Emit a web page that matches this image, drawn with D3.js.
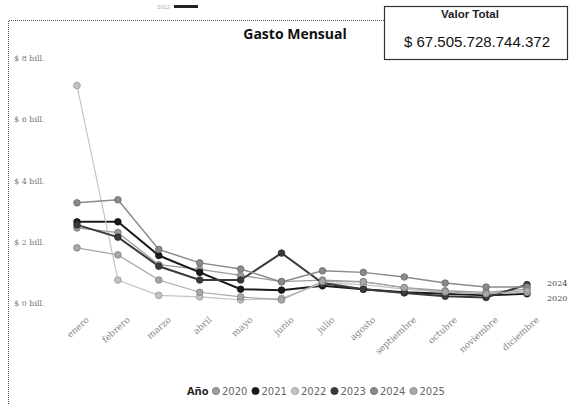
<!DOCTYPE html>
<html>
<head>
<meta charset="utf-8">
<script src="https://cdn.jsdelivr.net/npm/d3@7"></script>
<style>
  body { margin: 0; background: #fff; }
  svg { display: block; }
  .tick text { font-family: "DejaVu Serif", serif; }
</style>
</head>
<body>
<div id="container"></div>
<script>
// datos (billones)
var meses = ["enero", "febrero", "marzo", "abril", "mayo", "junio", "julio",
  "agosto", "septiembre", "octubre", "noviembre", "diciembre"];
var anios = ["2020", "2021", "2022", "2023", "2024", "2025"];
var gasto2020 = [2.45, 2.3, 1.25, 1.1, 0.9, 0.7, 0.75, 0.7, 0.5, 0.4, 0.35, 0.45];
var gasto2021 = [2.65, 2.65, 1.55, 1.0, 0.45, 0.42, 0.56, 0.45, 0.35, 0.3, 0.25, 0.3];
var gasto2022 = [7.1, 0.75, 0.25, 0.2, 0.1, 0.15, 0.65, 0.6, 0.45, 0.35, 0.3, 0.35];
var gasto2023 = [2.55, 2.15, 1.2, 0.75, 0.75, 1.63, 0.65, 0.45, 0.33, 0.22, 0.18, 0.6];
var gasto2024 = [3.27, 3.37, 1.75, 1.31, 1.11, 0.69, 1.05, 1.0, 0.85, 0.65, 0.52, 0.52];
var gasto2025 = [1.8, 1.57, 0.75, 0.35, 0.2, 0.1, 0.7, 0.69, 0.5, 0.36, 0.3, 0.4];
var yTicks = [0, 2, 4, 6, 8];
var valorTotal = "$ 67.505.728.744.372";

var series = [gasto2020, gasto2021, gasto2022, gasto2023, gasto2024, gasto2025];
var colores = ["#9c9c9c", "#1a1a1a", "#c4c4c4", "#3a3a3a", "#8a8a8a", "#a8a8a8"];
var grosor = [1.3, 2, 1.2, 2, 1.5, 1.2];

var W = 569, H = 404;
var svg = d3.select("#container").append("svg")
  .attr("width", W).attr("height", H);

// marco punteado
svg.append("path")
  .attr("d", "M8.5,404 L8.5,20.5 L385,20.5")
  .attr("fill", "none").attr("stroke", "#555")
  .attr("stroke-width", 1).attr("stroke-dasharray", "1,1");

// pequeño filtro arriba
svg.append("text").attr("x", 157).attr("y", 9)
  .style("font-family", "DejaVu Sans").style("font-size", "5px")
  .attr("fill", "#aaa").text("2022");
svg.append("rect").attr("x", 174).attr("y", 5).attr("width", 24).attr("height", 3)
  .attr("fill", "#222");

// titulo
svg.append("text")
  .attr("x", 295).attr("y", 39)
  .attr("text-anchor", "middle")
  .style("font-family", "Open Sans").style("font-weight", "bold").style("font-size", "14px")
  .attr("fill", "#111")
  .text("Gasto Mensual");

// tarjeta valor total
svg.append("rect").attr("x", 384.5).attr("y", 6.5).attr("width", 183).attr("height", 53)
  .attr("fill", "#fff").attr("stroke", "#333").attr("stroke-width", 1.2);
svg.append("text").attr("x", 470).attr("y", 18)
  .attr("text-anchor", "middle")
  .style("font-family", "Liberation Sans").style("font-weight", "bold").style("font-size", "11.5px")
  .attr("fill", "#222").text("Valor Total");
svg.append("text").attr("x", 477).attr("y", 47)
  .attr("text-anchor", "middle")
  .style("font-family", "Liberation Sans").style("font-size", "15px")
  .attr("fill", "#111").text(valorTotal);

var x = d3.scalePoint().domain(meses).range([77, 527]);
var y = d3.scaleLinear().domain([0, 8]).range([303, 58]);

var yAxis = d3.axisLeft(y).tickValues(yTicks).tickSize(0)
  .tickFormat(function(d) { return "$ " + d + " bill."; });
var gy = svg.append("g").attr("transform", "translate(14,0)").call(yAxis);
gy.select(".domain").remove();
gy.selectAll("text").attr("text-anchor", "start").attr("x", 0).attr("dy", "0.32em")
  .style("font-size", "8px").attr("fill", "#777");

var xAxis = d3.axisBottom(x).tickSize(0);
var gx = svg.append("g").attr("transform", "translate(0,314)").call(xAxis);
gx.select(".domain").remove();
gx.selectAll("text")
  .attr("text-anchor", "end")
  .attr("dy", "0.35em")
  .attr("transform", "translate(8,2) rotate(-42)")
  .style("font-size", "9px").attr("fill", "#888");

var line = d3.line()
  .x(function(d, i) { return x(meses[i]); })
  .y(function(d) { return y(d); });

var lineas = svg.append("g");
series.forEach(function(s, k) {
  lineas.append("path").datum(s)
    .attr("d", line)
    .attr("fill", "none")
    .attr("stroke", colores[k])
    .attr("stroke-width", grosor[k]);
});
series.forEach(function(s, k) {
  lineas.selectAll(".p" + k).data(s).enter().append("circle")
    .attr("cx", function(d, i) { return x(meses[i]); })
    .attr("cy", function(d) { return y(d); })
    .attr("r", 3.3)
    .attr("fill", colores[k])
    .attr("stroke", d3.color(colores[k]).darker(0.8))
    .attr("stroke-width", 0.8);
});

// etiquetas finales
svg.append("text").attr("x", 547).attr("y", 286)
  .style("font-family", "DejaVu Serif").style("font-size", "8px").attr("fill", "#444").text("2024");
svg.append("text").attr("x", 547).attr("y", 301)
  .style("font-family", "DejaVu Serif").style("font-size", "8px").attr("fill", "#444").text("2020");

// leyenda
var leyenda = svg.append("g").attr("transform", "translate(0,391)");
leyenda.append("text").attr("x", 187).attr("y", 4)
  .style("font-family", "Open Sans").style("font-weight", "bold").style("font-size", "11px")
  .attr("fill", "#222").text("Año");
anios.forEach(function(a, k) {
  var cx = 216 + k * 39.5;
  leyenda.append("circle").attr("cx", cx).attr("cy", 0).attr("r", 3.6)
    .attr("fill", colores[k]).attr("stroke", d3.color(colores[k]).darker(0.8)).attr("stroke-width", 0.8);
  leyenda.append("text").attr("x", cx + 6).attr("y", 4)
    .style("font-family", "DejaVu Sans").style("font-size", "10px")
    .attr("fill", "#666").text(a);
});
</script>
</body>
</html>
